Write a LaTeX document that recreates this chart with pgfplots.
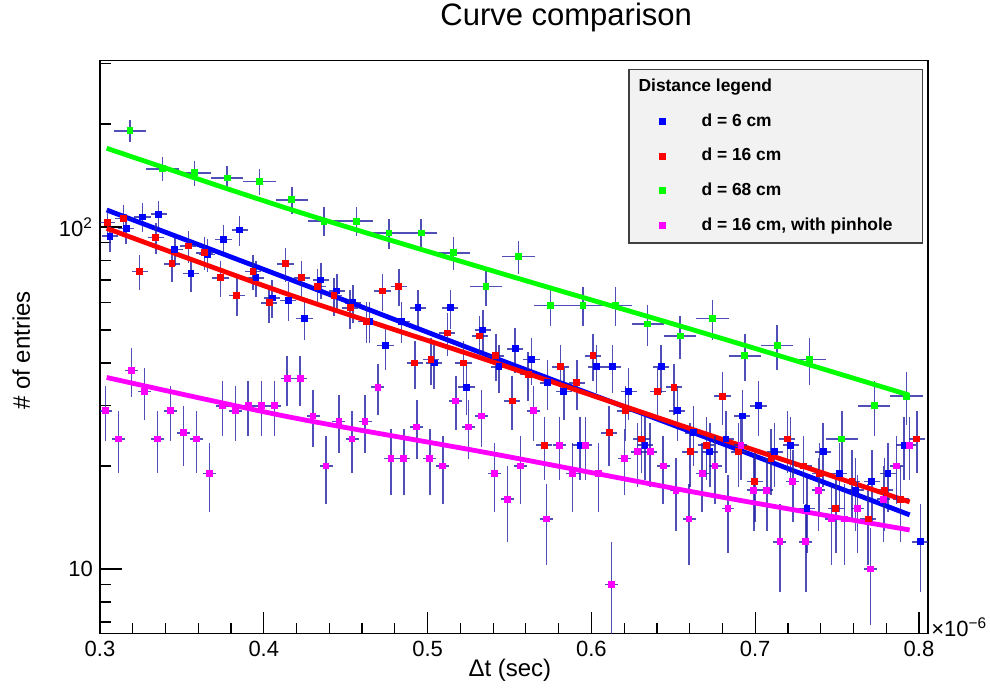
\documentclass[border=0pt]{standalone}
\usepackage{fontspec}
\setmainfont{Liberation Sans}
\usepackage{pgfplots}
\usepackage{pgfplotstable}
\pgfplotsset{compat=1.18}
\usetikzlibrary{calc}
\definecolor{errc}{RGB}{35,35,165}
\definecolor{rblue}{RGB}{0,0,255}
\definecolor{rred}{RGB}{255,0,0}
\definecolor{rgreen}{RGB}{0,255,0}
\definecolor{rmag}{RGB}{255,0,255}

\pgfplotstableread{
x y
0.3061 94
0.3160 99
0.3259 107
0.3358 109
0.3457 86
0.3556 73
0.3655 83
0.3754 92
0.3853 98
0.3952 71
0.4051 62
0.4150 61
0.4249 54
0.4348 70
0.4446 65
0.4545 60
0.4644 53
0.4743 45
0.4842 53
0.4941 58
0.5040 40
0.5139 58
0.5238 34
0.5337 50
0.5436 39
0.5535 44
0.5634 41
0.5733 35
0.5832 33
0.5931 23
0.6030 39
0.6129 39
0.6228 33
0.6327 23
0.6426 39
0.6525 29
0.6624 25
0.6723 22
0.6822 24
0.6921 28
0.7020 30
0.7119 22
0.7217 23
0.7316 15
0.7415 22
0.7514 19
0.7613 17
0.7712 18
0.7811 19
0.7910 23
0.8009 12
}\tblBlue

\pgfplotstableread{
x y
0.3045 103
0.3143 106
0.3242 74
0.3341 93
0.3440 78
0.3539 88
0.3638 84
0.3736 71
0.3835 63
0.3934 74
0.4033 60
0.4132 78
0.4231 71
0.4329 67
0.4428 63
0.4527 58
0.4626 53
0.4725 65
0.4824 67
0.4922 40
0.5021 41
0.5120 49
0.5219 40
0.5318 48
0.5417 42
0.5516 31
0.5614 37
0.5713 23
0.5812 39
0.5911 35
0.6010 42
0.6109 25
0.6207 29
0.6306 24
0.6405 33
0.6504 34
0.6603 22
0.6702 23
0.6800 32
0.6899 22
0.6998 18
0.7097 21
0.7196 24
0.7295 20
0.7394 19
0.7492 15
0.7591 18
0.7690 14
0.7789 17
0.7888 16
0.7987 24
}\tblRed

\pgfplotstableread{
x y
0.3183 191
0.3381 148
0.3578 144
0.3776 139
0.3973 136
0.4171 120
0.4368 104
0.4566 104
0.4764 96
0.4961 96
0.5159 84
0.5356 67
0.5554 82
0.5751 59
0.5949 59
0.6146 59
0.6344 52
0.6542 48
0.6739 54
0.6937 42
0.7134 45
0.7332 41
0.7529 24
0.7727 30
0.7924 32
}\tblGreen

\pgfplotstableread{
x y
0.3035 29
0.3114 24
0.3193 38
0.3272 33
0.3351 24
0.3431 29
0.3510 25
0.3589 24
0.3668 19
0.3747 30
0.3826 29
0.3905 30
0.3985 30
0.4064 30
0.4143 36
0.4222 36
0.4301 28
0.4380 20
0.4459 27
0.4539 24
0.4618 27
0.4697 34
0.4776 21
0.4855 21
0.4934 26
0.5014 21
0.5093 20
0.5172 31
0.5251 26
0.5330 28
0.5409 19
0.5488 16
0.5568 20
0.5647 29
0.5726 14
0.5805 23
0.5884 19
0.5963 23
0.6042 19
0.6122 9
0.6201 21
0.6280 22
0.6359 22
0.6438 20
0.6517 17
0.6596 14
0.6676 19
0.6755 20
0.6834 15
0.6913 23
0.6992 17
0.7071 17
0.7151 12
0.7230 18
0.7309 12
0.7388 17
0.7467 14
0.7546 14
0.7625 15
0.7705 10
0.7784 16
0.7863 20
0.7942 23
}\tblMag

\pgfplotsset{
  histo/.style={only marks, mark=square*, mark size=1.45pt,
    mark options={fill=#1, draw=#1, line width=0pt}, color=#1, forget plot,
    error bars/.cd, y dir=both, y explicit, x dir=both, x explicit,
    error mark=none,
    error bar style={errc, line width=0.75pt, opacity=0.8}},
  fitline/.style={color=#1, line width=2.4pt, no marks, forget plot},
}

\begin{document}
\begin{tikzpicture}
\begin{axis}[
  scale only axis, width=414pt, height=286.5pt,
  ymode=log,
  xmin=0.3, xmax=0.8055, ymin=6.47, ymax=306.6,
  axis line style={line width=0.9pt},
  tick pos=left, tick align=inside,
  xtick={0.3,0.4,0.5,0.6,0.7,0.8},
  xticklabels={0.3,0.4,0.5,0.6,0.7,0.8},
  minor xtick={0.32,0.34,0.36,0.38,0.42,0.44,0.46,0.48,0.52,0.54,0.56,0.58,0.62,0.64,0.66,0.68,0.72,0.74,0.76,0.78},
  ytick={10,100},
  yticklabels={10,10\textsuperscript{2}},
  minor ytick={7,8,9,20,30,40,50,60,70,80,90,200,300},
  major tick length=11pt, minor tick length=5.5pt,
  tick style={line width=0.6pt, black},
  every tick label/.append style={font=\fontsize{11}{13}\selectfont},
  /pgf/number format/assume math mode=true,
  title={Curve comparison},
  title style={at={(axis description cs:0.563,1)}, anchor=base, yshift=11.5pt, font=\fontsize{15.5}{18}\selectfont},
  xlabel={Δt (sec)},
  xlabel style={at={(axis description cs:0.495,0)}, anchor=base, yshift=-21.5pt, font=\fontsize{12}{14}\selectfont},
  ylabel={\# of entries},
  ylabel style={at={([xshift=-35pt]axis description cs:0,0.494)}, anchor=base, font=\fontsize{12}{14}\selectfont},
  legend image code/.code={\fill[#1] (0pt,-1.4pt) rectangle (2.8pt,1.4pt);},
  legend cell align=left,
  legend style={
    at={(axis description cs:0.6377,0.986)}, anchor=north west,
    fill=black!5, draw=black!75, line width=0.8pt,
    font=\fontsize{8.7}{10}\selectfont\bfseries,
    inner xsep=15pt, inner ysep=4.6pt,
    row sep=9pt,
    nodes={inner sep=0pt, text height=6.5pt, text depth=1.8pt},
    /tikz/every odd column/.append style={column sep=17.8pt},
  },
]
\addplot[histo=rblue] table[x=x, y=y, x error expr={0.00495}, y error expr={sqrt(\thisrow{y})}] {\tblBlue};
\addplot[fitline=rblue, smooth] coordinates {(0.3041,112.1) (0.4159,70.3) (0.5378,41.96) (0.6659,24.65) (0.7943,14.39)};

\addplot[histo=rred] table[x=x, y=y, x error expr={0.00495}, y error expr={sqrt(\thisrow{y})}] {\tblRed};
\addplot[fitline=rred, smooth] coordinates {(0.3041,99.1) (0.4159,63.3) (0.5378,40.6) (0.6659,25.2) (0.7943,15.7)};

\addplot[histo=rgreen] table[x=x, y=y, x error expr={0.0099}, y error expr={sqrt(\thisrow{y})}] {\tblGreen};
\addplot[fitline=rgreen, smooth] coordinates {(0.3041,169.9) (0.4159,112.7) (0.5378,74.9) (0.6659,49.4) (0.7935,32.3)};

\addplot[histo=rmag] table[x=x, y=y, x error expr={0.00396}, y error expr={sqrt(\thisrow{y})}] {\tblMag};
\addplot[fitline=rmag, smooth] coordinates {(0.3041,36.3) (0.4159,27.8) (0.5378,21.8) (0.6679,16.6) (0.7943,13.0)};

\addlegendimage{empty legend}
\addlegendentry{\hspace*{-31.5pt}Distance legend}
\addlegendimage{rblue}
\addlegendentry{d = 6 cm}
\addlegendimage{rred}
\addlegendentry{d = 16 cm}
\addlegendimage{rgreen}
\addlegendentry{d = 68 cm}
\addlegendimage{rmag}
\addlegendentry{d = 16 cm, with pinhole}
\end{axis}
\node[anchor=base west, font=\fontsize{11}{13}\selectfont, inner sep=0pt] at ($(current axis.south east)+(1.5pt,-1.5pt)$) {×10\textsuperscript{−6}};
\pgfresetboundingbox
\useasboundingbox ($(current axis.south west)+(-50pt,-28.65pt)$) rectangle ($(current axis.north east)+(31pt,30.3pt)$);
\end{tikzpicture}
\end{document}
